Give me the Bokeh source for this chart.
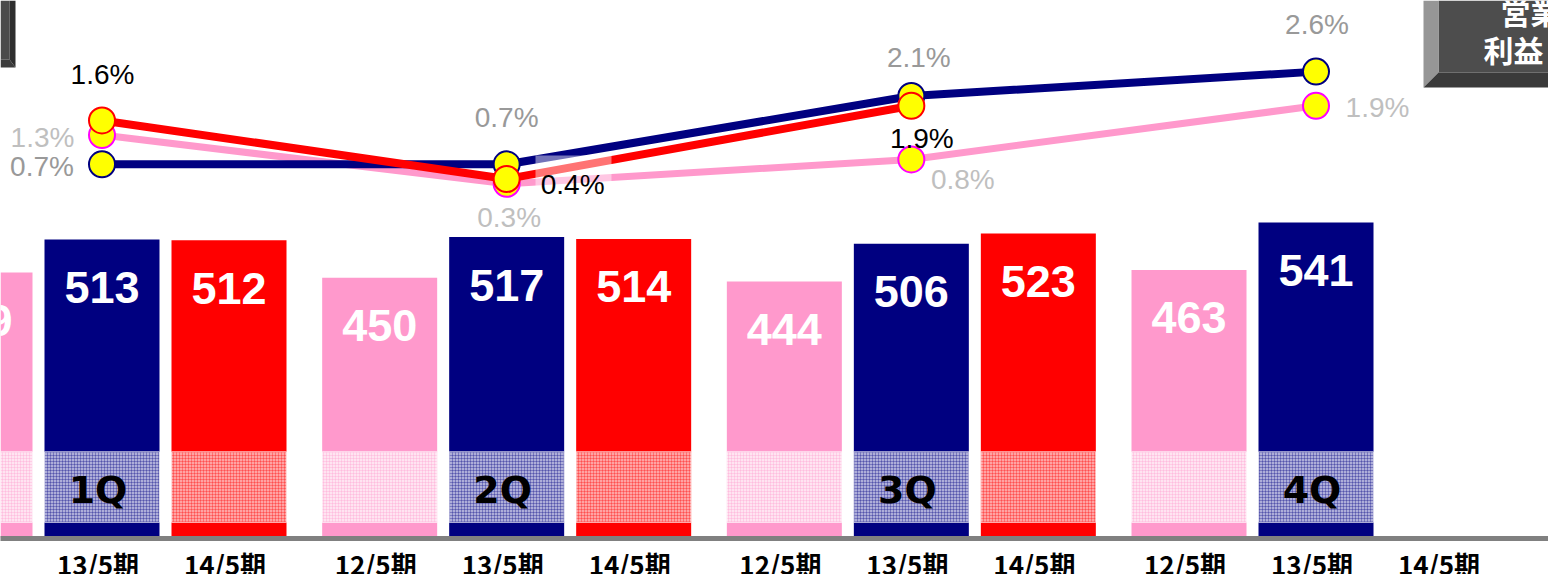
from bokeh.plotting import figure
from bokeh.models import Range1d, ColumnDataSource, FixedTicker
from bokeh.core.properties import value
from bokeh.embed import file_html
from bokeh.resources import INLINE

# ---------------- data ----------------
quarters = ["1Q", "2Q", "3Q", "4Q"]
periods = ["12/5期", "13/5期", "14/5期"]
sales_12 = [459, 450, 444, 463]
sales_13 = [513, 517, 506, 541]
sales_14 = [512, 514, 523, None]
margin_12 = [1.3, 0.3, 0.8, 1.9]
margin_13 = [0.7, 0.7, 2.1, 2.6]
margin_14 = [1.6, 0.4, 1.9, None]
box_lines = ["営業", "利益"]

# ---------------- layout / style ----------------
PINK, NAVY, RED = "#FF99CC", "#000080", "#FF0000"
BAND = {PINK: "#FFE4F1", NAVY: "#AEAED9", RED: "#FFA3A3"}
SLOT = 127.0                      # px per bar slot
GROUP_STEP = 404.67 / SLOT        # slots per quarter group
BAR_W = 115 / SLOT
FIRST_NAVY_PX = 101.5             # reference px of 1Q/13期 centre
BAND_BOTTOM, BAND_TOP = 48, 164
SANS = "Liberation Sans"
JP = "Noto Sans CJK JP"


def pos(g, s):
    return g * GROUP_STEP + s


def px_to_pos(px):
    return 1 + (px - FIRST_NAVY_PX) / SLOT


bar_scale = 0.6082   # px per unit
bar_base_px = 535.0
bar_base_val = 26.4
pct_scale = 48.8
pct_zero_px = 198.0
TOP_PX, BOT_PX, LEFT_PX, RIGHT_PX = 0, 538, 0, 1548

p = figure(frame_width=RIGHT_PX - LEFT_PX, frame_height=BOT_PX - TOP_PX,
           x_range=Range1d(px_to_pos(LEFT_PX), px_to_pos(RIGHT_PX)),
           y_range=Range1d(bar_base_val - (BOT_PX - bar_base_px) / bar_scale,
                           bar_base_val + (bar_base_px - TOP_PX) / bar_scale),
           output_backend="svg", toolbar_location=None, y_axis_location=None,
           min_border=0, outline_line_color=None, background_fill_color="white")
p.extra_y_ranges = {
    "pct": Range1d((pct_zero_px - BOT_PX) / pct_scale, (pct_zero_px - TOP_PX) / pct_scale),
    "px": Range1d(BOT_PX, TOP_PX),
}
p.extra_x_ranges = {"px": Range1d(LEFT_PX, RIGHT_PX)}
p.grid.visible = False

# ---------------- bars ----------------
bx, btop, bcol, bband, blab = [], [], [], [], []
for s, (series, col) in enumerate(zip([sales_12, sales_13, sales_14], [PINK, NAVY, RED])):
    for g, v in enumerate(series):
        if v is None:
            continue
        bx.append(pos(g, s)); btop.append(v); bcol.append(col)
        bband.append(BAND[col]); blab.append(str(v))
bars = ColumnDataSource(dict(x=bx, top=btop, color=bcol, band=bband, label=blab))

p.vbar(x="x", top="top", bottom=0, width=BAR_W, fill_color="color",
       line_color=None, source=bars)
p.vbar(x="x", top=BAND_TOP, bottom=BAND_BOTTOM, width=BAR_W, fill_color="band",
       line_color="white", line_alpha=0.7, line_width=1,
       hatch_pattern="+", hatch_color="color", hatch_alpha=0.3,
       hatch_scale=3, hatch_weight=1, source=bars)
p.text(x="x", y="top", text="label", source=bars, text_color="white",
       text_font=value(SANS), text_font_style="bold", text_font_size="45px",
       text_align="center", text_baseline="middle", y_offset=48)

# quarter labels inside the 13/5 bars
p.text(x=[pos(g, 1) for g in range(4)], y=[489] * 4, y_range_name="px",
       text=quarters, text_color="black", text_font=value("DejaVu Sans"),
       text_font_style="bold", text_font_size="38px", text_align="center",
       text_baseline="middle", x_offset=-4)

# ---------------- lines ----------------
series_cfg = [
    (margin_12, "#FF99CC", "#FF00FF", "#BFBFBF", 7,
     [-59.5, 2.5, 51.5, 61.5], [2, 34, 20, 2]),
    (margin_13, NAVY, NAVY, "#999999", 8,
     [-60, 0, 7.5, 1], [2, -47, -38.5, -47.5]),
    (margin_14, RED, RED, "black", 8,
     [0.5, 66, 10.5], [-46, 5.5, 32.7]),
]
label_sources = []
for vals, lcol, mcol, tcol, lw, dx, dy in series_cfg:
    xs = [pos(g, 1) for g, v in enumerate(vals) if v is not None]
    ys = [v for v in vals if v is not None]
    src = ColumnDataSource(dict(x=xs, y=ys, text=[f"{v:.1f}%" for v in ys],
                                dx=dx[:len(ys)], dy=dy[:len(ys)]))
    p.line(x="x", y="y", source=src, y_range_name="pct", line_color=lcol,
           line_width=lw)
    p.scatter(x="x", y="y", source=src, y_range_name="pct", size=26,
              fill_color="#FFFF00", line_color=mcol, line_width=2)
    label_sources.append((src, tcol))

# translucent label box behind 0.4%
p.quad(left=535, right=611, top=155, bottom=187, x_range_name="px",
       y_range_name="px", fill_color="white", fill_alpha=0.45, line_color=None)

for src, tcol in label_sources:
    p.text(x="x", y="y", text="text", source=src, y_range_name="pct",
           x_offset="dx", y_offset="dy", text_color=tcol,
           text_font=value(SANS), text_font_size="28px",
           text_align="center", text_baseline="middle")

# ---------------- decorative title boxes ----------------
p.patches(xs=[[0, 9, 9, 0], [9, 15, 15, 9], [0, 9, 15, 0]],
          ys=[[0, 0, 59, 59], [0, 0, 67, 59], [59, 59, 67, 67]],
          x_range_name="px", y_range_name="px",
          fill_color=["#4A4A4A", "#2E2E2E", "#3C3C3C"], line_color=None)
p.patches(xs=[[1438, 1560, 1560, 1438], [1423, 1438, 1438, 1423],
              [1423, 1438, 1560, 1560]],
          ys=[[0, 0, 72, 72], [0, 0, 72, 87], [87, 72, 72, 87]],
          x_range_name="px", y_range_name="px",
          fill_color=["#4D4D4D", "#969696", "#3A3A3A"], line_color=None)
p.text(x=[1500, 1483], y=[10, 48], text=box_lines, x_range_name="px",
       y_range_name="px", text_color="white", text_font=value(JP),
       text_font_style="bold", text_font_size="30px", text_align="left",
       text_baseline="middle")

# ---------------- x axis ----------------
ticks, overrides = [], {}
for g in range(4):
    for s in range(3):
        t = round(pos(g, s) - 4 / SLOT, 4)
        ticks.append(t)
        overrides[t] = periods[s]
p.xaxis.ticker = FixedTicker(ticks=ticks)
p.xaxis.major_label_overrides = overrides
p.xaxis.axis_line_color = "#808080"
p.xaxis.axis_line_width = 5
p.xaxis.major_tick_line_color = None
p.xaxis.minor_tick_line_color = None
p.xaxis.major_label_text_font = JP
p.xaxis.major_label_text_font_style = "bold"
p.xaxis.major_label_text_font_size = "26px"
p.xaxis.major_label_text_color = "black"
p.xaxis.major_label_standoff = 0

open("out.html", "w").write(file_html(p, INLINE))
